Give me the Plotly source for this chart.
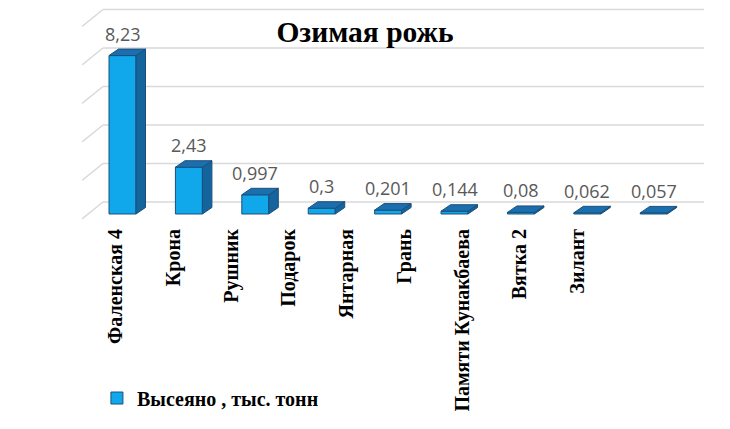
import plotly.graph_objects as go

# ---- data ----
categories = ["Фаленская 4", "Крона", "Рушник", "Подарок", "Янтарная",
              "Грань", "Памяти Кунакбаева", "Вятка 2", "Зилант"]
values = [8.23, 2.43, 0.997, 0.3, 0.201, 0.144, 0.08, 0.062, 0.057]
value_labels = ["8,23", "2,43", "0,997", "0,3", "0,201", "0,144", "0,08", "0,062", "0,057"]
series_name = "Высеяно , тыс. тонн"
title_text = "Озимая рожь"
grid_values = [0, 2, 4, 6, 8, 10]

# ---- style ----
FRONT = "#10A8EA"
SIDE = "#14649E"
TOP = "#1B6FAF"
EDGE = "#1B4F7A"
GRID = "#D9D9D9"

W = 730
H = 429
ML, MR, MT, MB = 82, 26, 5, 209
x_range = [-0.610, 8.757]
y_range = [-0.312, 10.857]
x2_range = [-0.580, 10.19]

px_per_x = (W - ML - MR) / (x_range[1] - x_range[0])
px_per_y = (H - MT - MB) / (y_range[1] - y_range[0])

bar_w = 27 / px_per_x
dx = 9.5 / px_per_x
dy = 6.5 / px_per_y
wall_dy = 12 / px_per_y      # back wall offset
wall_left = -0.294           # back wall left edge (x units)
side_dy = 17 / px_per_y      # left wall depth (vertical)

xs = list(range(len(categories)))

fig = go.Figure()

# front faces
fig.add_trace(go.Bar(
    x=xs, y=values, width=bar_w, name=series_name,
    marker=dict(color=FRONT, line=dict(color=EDGE, width=1)),
    hoverinfo="skip", showlegend=True,
))

# side faces
sx, sy = [], []
for i, v in zip(xs, values):
    r = i + bar_w / 2
    sx += [r, r + dx, r + dx, r, r, None]
    sy += [0, dy, v + dy, v, 0, None]
fig.add_trace(go.Scatter(
    x=sx, y=sy, mode="lines", fill="toself", fillcolor=SIDE,
    line=dict(color=EDGE, width=1), hoverinfo="skip", showlegend=False,
))

# top faces
tx, ty = [], []
for i, v in zip(xs, values):
    l = i - bar_w / 2
    r = i + bar_w / 2
    tx += [l, r, r + dx, l + dx, l, None]
    ty += [v, v, v + dy, v + dy, v, None]
fig.add_trace(go.Scatter(
    x=tx, y=ty, mode="lines", fill="toself", fillcolor=TOP,
    line=dict(color=EDGE, width=1), hoverinfo="skip", showlegend=False,
))

# invisible trace for category axis
fig.add_trace(go.Scatter(
    x=xs, y=[0] * len(xs), xaxis="x2", mode="markers",
    marker=dict(opacity=0), hoverinfo="skip", showlegend=False,
))

# data labels
for i, v, t in zip(xs, values, value_labels):
    fig.add_annotation(
        x=i, y=v, text=t, showarrow=False, yanchor="middle", yshift=22,
        font=dict(family="Open Sans", size=18, color="#595959"),
    )

# grid on back wall + left wall
shapes = []
for g in grid_values:
    shapes.append(dict(type="line", xref="x", yref="y", layer="below",
                       x0=wall_left, x1=x_range[1], y0=g + wall_dy, y1=g + wall_dy,
                       line=dict(color=GRID, width=1.5)))
    shapes.append(dict(type="line", xref="x", yref="y", layer="below",
                       x0=x_range[0], x1=wall_left, y0=g + wall_dy - side_dy, y1=g + wall_dy,
                       line=dict(color=GRID, width=1.5)))

fig.update_layout(
    width=W, height=H,
    margin=dict(l=ML, r=MR, t=MT, b=MB, autoexpand=False),
    paper_bgcolor="white", plot_bgcolor="white",
    shapes=shapes,
    title=dict(text=title_text, x=0.5, xanchor="center", y=1 - 32 / H, yanchor="middle",
               font=dict(family="Liberation Serif", size=29.5, color="black", weight="bold")),
    xaxis=dict(range=x_range, showticklabels=False, showgrid=False, zeroline=False,
               showline=False, ticks=""),
    xaxis2=dict(range=x2_range, overlaying="x", side="bottom", anchor="y",
                tickvals=xs, ticktext=categories, tickangle=-90, ticklabelstandoff=4,
                tickfont=dict(family="Liberation Serif", size=20, color="black", weight="bold"),
                showgrid=False, zeroline=False, showline=False, ticks=""),
    yaxis=dict(range=y_range, visible=False),
    legend=dict(orientation="h", x=0.024, xanchor="left", y=-0.828, yanchor="middle",
                font=dict(family="Liberation Serif", size=20, color="black", weight="bold"),
                bgcolor="rgba(0,0,0,0)"),
    showlegend=True,
)

fig.write_html("out.html", config={"displayModeBar": False},
               post_script="document.body.style.margin='0';")
